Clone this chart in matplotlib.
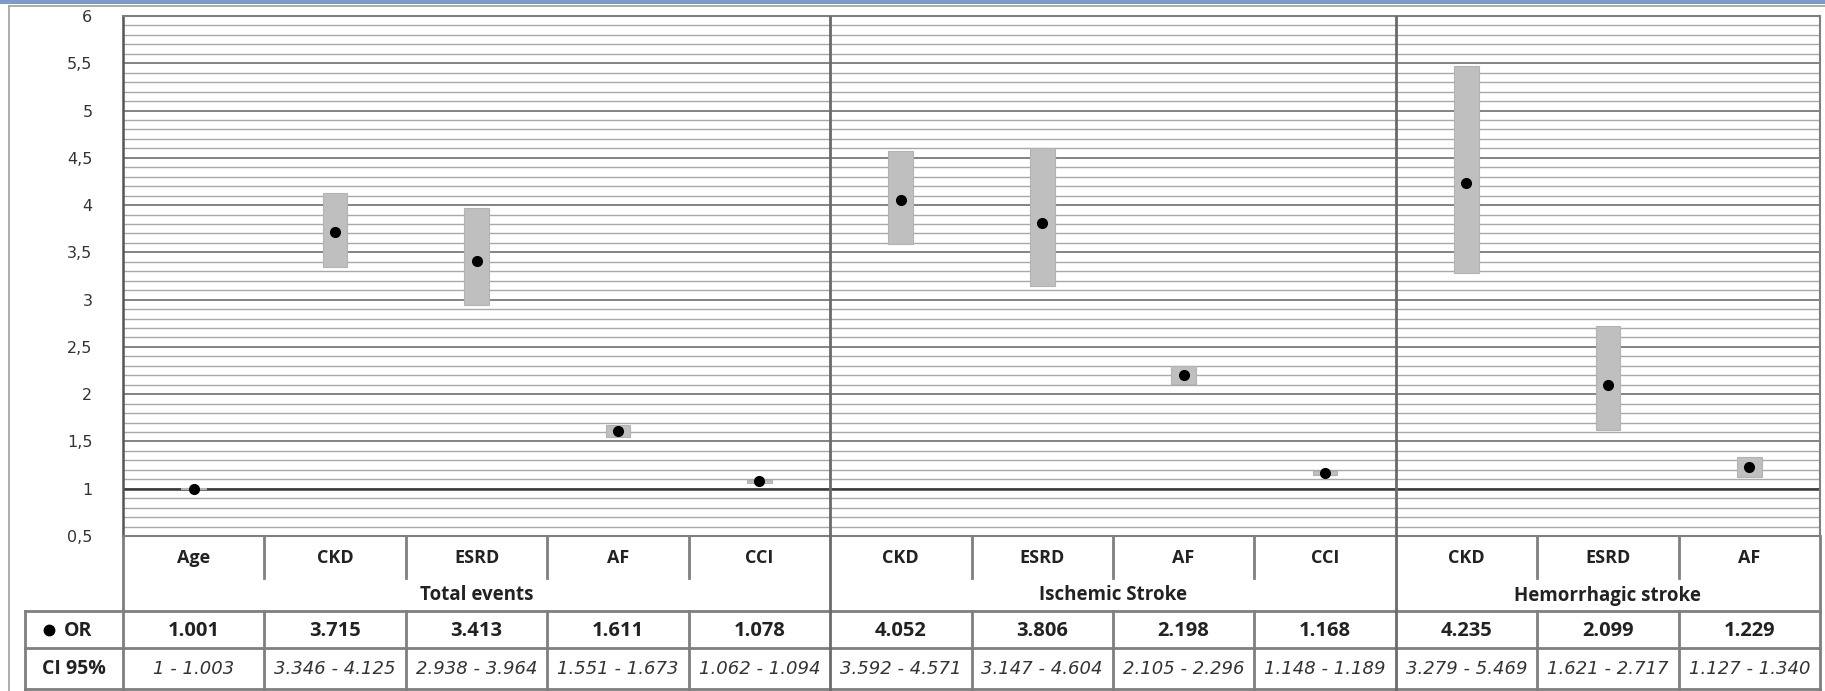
import numpy as np
import matplotlib.pyplot as plt
from matplotlib.lines import Line2D
from matplotlib.patches import Rectangle
from matplotlib.ticker import FuncFormatter, MultipleLocator

# dados
grupos = ["Total events", "Ischemic Stroke", "Hemorrhagic stroke"]
n_por_grupo = [5, 4, 3]
categorias = ["Age", "CKD", "ESRD", "AF", "CCI",
              "CKD", "ESRD", "AF", "CCI",
              "CKD", "ESRD", "AF"]
odds = [1.001, 3.715, 3.413, 1.611, 1.078,
        4.052, 3.806, 2.198, 1.168,
        4.235, 2.099, 1.229]
ic_inf = [1.0, 3.346, 2.938, 1.551, 1.062,
          3.592, 3.147, 2.105, 1.148,
          3.279, 1.621, 1.127]
ic_sup = [1.003, 4.125, 3.964, 1.673, 1.094,
          4.571, 4.604, 2.296, 1.189,
          5.469, 2.717, 1.340]
ic_txt = ["1 - 1.003", "3.346 - 4.125", "2.938 - 3.964", "1.551 - 1.673", "1.062 - 1.094",
          "3.592 - 4.571", "3.147 - 4.604", "2.105 - 2.296", "1.148 - 1.189",
          "3.279 - 5.469", "1.621 - 2.717", "1.127 - 1.340"]

W, H = 1825, 691
fig = plt.figure(figsize=(W / 100, H / 100), dpi=100)
fig.patch.set_facecolor("white")

def fx(px):
    return px / W

def fy(py):
    return 1 - py / H

# moldura do grafico (estilo excel)
fig.add_artist(Rectangle((0, fy(3.5)), 1, 3.5 / H, transform=fig.transFigure,
                         color="#7b9cc8", lw=0))
fig.add_artist(Line2D([fx(9), 1], [fy(5.5), fy(5.5)], transform=fig.transFigure,
                      color="#a0a0a0", lw=1.2))
fig.add_artist(Line2D([fx(9), fx(9)], [fy(5.5), 0], transform=fig.transFigure,
                      color="#a0a0a0", lw=1.2))

x0, x1 = 123, 1820
ax = fig.add_axes([fx(x0), fy(536), fx(x1 - x0), (536 - 16) / H])
n = len(categorias)
x = np.arange(n) + 0.5
ax.set_xlim(0, n)
ax.set_ylim(0.5, 6)

ax.yaxis.set_major_locator(MultipleLocator(0.5))
ax.yaxis.set_minor_locator(MultipleLocator(0.1))
ax.yaxis.set_major_formatter(FuncFormatter(lambda v, p: ("%g" % v).replace(".", ",")))
ax.tick_params(axis="y", which="both", length=0, pad=22, labelsize=11.5, labelcolor="#333333")
ax.set_xticks([])
ax.grid(which="minor", axis="y", color="#a8a8a8", lw=1.0)
ax.grid(which="major", axis="y", color="#7a7a7a", lw=1.3)
ax.axhline(1, color="#3a3a3a", lw=1.8, zorder=2)
ax.set_axisbelow(True)
for s in ["top", "right", "bottom"]:
    ax.spines[s].set_color("#7f7f7f")
    ax.spines[s].set_linewidth(1.5)
ax.spines["left"].set_color("#555555")
ax.spines["left"].set_linewidth(1.8)

inf = np.array(ic_inf)
sup = np.array(ic_sup)
ax.bar(x, sup - inf, bottom=inf, width=0.175, color="#bfbfbf",
       edgecolor="#b3b3b3", lw=0.8, zorder=3)
ax.plot(x, odds, "o", color="black", ms=7, zorder=4)

limites = np.cumsum(n_por_grupo)[:-1]
for b in limites:
    ax.axvline(b, color="#6a6a6a", lw=2, zorder=3)

# tabela embaixo
tax = fig.add_axes([fx(x0), fy(689), fx(x1 - x0), (689 - 536) / H])
tax.set_xlim(0, n)
tax.set_ylim(153, 0)
tax.axis("off")
lc = "#7f7f7f"
lw = 2
esq = (25 - x0) / ((x1 - x0) / n)
r_cat, r_grp, r_or, r_ci = 42, 75, 112, 153

for yy in [r_grp, r_or, r_ci]:
    tax.plot([esq, n], [yy, yy], color=lc, lw=lw, clip_on=False)
tax.plot([0, 0], [0, r_ci], color=lc, lw=lw, clip_on=False)
tax.plot([n, n], [0, r_ci], color=lc, lw=lw, clip_on=False)
tax.plot([esq, esq], [r_grp, r_ci], color=lc, lw=lw, clip_on=False)
for k in range(1, n):
    if k in limites:
        tax.plot([k, k], [0, r_ci], color="#6a6a6a", lw=2, clip_on=False)
    else:
        tax.plot([k, k], [0, r_cat], color=lc, lw=lw, clip_on=False)
        tax.plot([k, k], [r_grp, r_ci], color=lc, lw=lw, clip_on=False)

fonte = "Open Sans"
for i in range(n):
    tax.text(x[i], r_cat / 2 + 1, categorias[i], ha="center", va="center",
             fontsize=13, fontweight="bold", family=fonte, color="#222222")
    tax.text(x[i], (r_grp + r_or) / 2 + 1, "%.3f" % odds[i], ha="center", va="center",
             fontsize=14.5, fontweight="bold", family=fonte, color="#222222")
    tax.text(x[i], (r_or + r_ci) / 2 + 1, ic_txt[i], ha="center", va="center",
             fontsize=13, style="italic", family="DejaVu Sans", color="#333333")

inicio = np.concatenate([[0], limites])
for g, a, m in zip(grupos, inicio, n_por_grupo):
    tax.text(a + m / 2, (r_cat + r_grp) / 2 + 1, g, ha="center", va="center",
             fontsize=13.5, fontweight="bold", family=fonte, color="#222222")

tax.plot([esq * 0.76], [(r_grp + r_or) / 2], "o", color="black", ms=7.5, clip_on=False)
tax.text(esq * 0.6, (r_grp + r_or) / 2 + 1, "OR", ha="left", va="center",
         fontsize=14, fontweight="bold", family=fonte, color="#222222")
tax.text(esq / 2, (r_or + r_ci) / 2 + 1, "CI 95%", ha="center", va="center",
         fontsize=14, fontweight="bold", family=fonte, color="#222222")

fig.savefig("out.png", dpi=100)
